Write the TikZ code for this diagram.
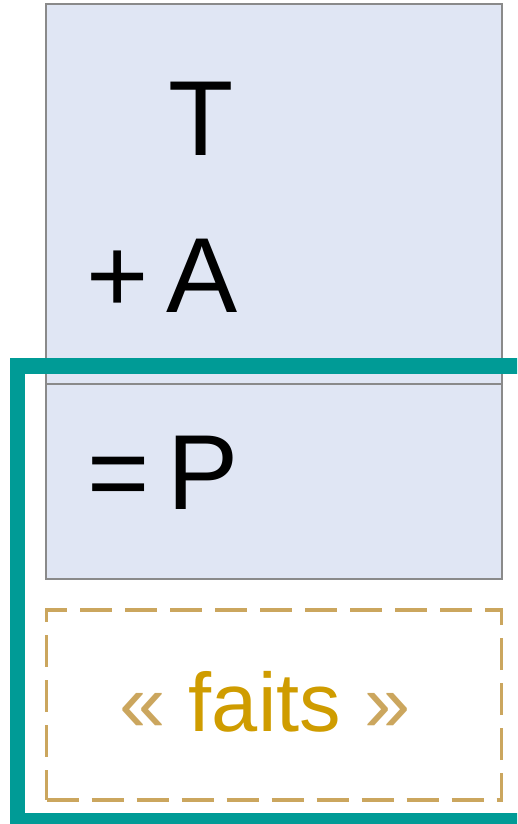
\documentclass[tikz,border=0pt]{standalone}
\usepackage{fontspec}
\setmainfont{Liberation Sans}
\definecolor{boxfill}{HTML}{E0E6F4}
\definecolor{boxline}{HTML}{8A8A8A}
\definecolor{teal}{HTML}{009B96}
\definecolor{tan}{HTML}{CBA65E}
\definecolor{gold}{HTML}{CF9C00}
\begin{document}
\begin{tikzpicture}[x=1pt,y=-1pt,
  panel/.style={draw=boxline, fill=boxfill, line width=1.6pt, inner sep=0pt, outer sep=0pt},
  bigtxt/.style={inner sep=0pt, outer sep=0pt, font=\fontsize{106.7}{120}\selectfont, text=black},
  factbox/.style={draw=tan, line width=3.5pt, dash pattern=on 32pt off 13pt, inner sep=0pt, outer sep=0pt},
  bracket/.style={draw=teal, line width=15.5pt, line join=miter}]
\useasboundingbox (0,0) rectangle (517,824);
\clip (0,0) rectangle (517,824);
\node[panel, minimum width=456pt, minimum height=380pt] (top) at (274,194) {};
\node[panel, minimum width=456pt, minimum height=195pt] (bottom) at (274,481.5) {};
\node[factbox, minimum width=455pt, minimum height=190pt] (facts) at (274,705) {};
\node[bigtxt, anchor=base west] (t) at (168.7,155.7) {T};
\node[bigtxt, anchor=base west] (a) at (86.8,312) {+\hspace{17pt}A};
\node[bigtxt, anchor=base west] (p) at (87.1,509) {=\hspace{18pt}P};
\node[inner sep=0pt, anchor=base, font=\fontsize{83}{95}\selectfont] (f) at (265,731)
  {\textcolor{tan}{«}\ \textcolor{gold}{faits}\ \textcolor{tan}{»}};
\coordinate (b1) at (540,366);
\coordinate (b2) at (17.5,366);
\coordinate (b3) at (17.5,820.5);
\coordinate (b4) at (540,820.5);
\draw[bracket] (b1) -- (b2) -- (b3) -- (b4);
\end{tikzpicture}
\end{document}
